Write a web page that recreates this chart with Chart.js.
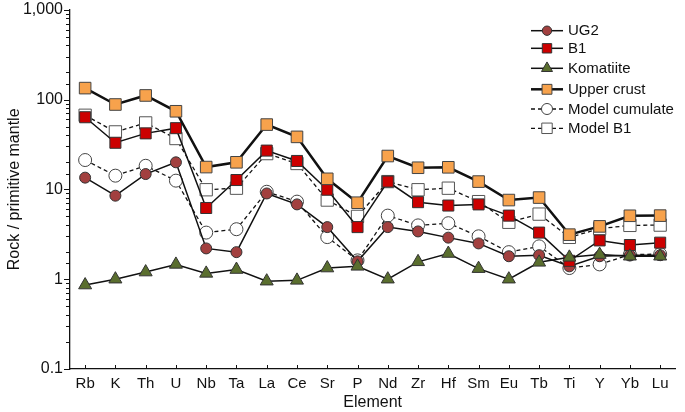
<!DOCTYPE html>
<html>
<head>
<meta charset="utf-8">
<script src="https://cdn.jsdelivr.net/npm/chart.js@4.4.1/dist/chart.umd.min.js"></script>
<style>
  html, body { margin: 0; padding: 0; background: #ffffff; }
  #wrap { width: 685px; height: 412px; position: relative; }
</style>
</head>
<body>
<div id="wrap"><canvas id="c" width="685" height="412"></canvas></div>
<script>
const elements = ['Rb','K','Th','U','Nb','Ta','La','Ce','Sr','P','Nd','Zr','Hf','Sm','Eu','Tb','Ti','Y','Yb','Lu'];
const ug2 = [13.5, 8.5, 14.8, 20, 2.2, 2.0, 9.0, 6.8, 3.8, 1.58, 3.8, 3.4, 2.9, 2.5, 1.8, 1.85, 1.39, 1.8, 1.85, 1.85];
const b1 = [63.5, 33, 42, 48, 6.2, 12.7, 27, 20.7, 9.9, 3.8, 12.2, 7.2, 6.6, 6.8, 5.1, 3.3, 1.6, 2.7, 2.4, 2.55];
const komatiite = [0.86, 1.0, 1.2, 1.46, 1.16, 1.28, 0.95, 0.97, 1.33, 1.39, 1.0, 1.56, 1.93, 1.31, 1.0, 1.54, 1.75, 1.88, 1.8, 1.8];
const upperCrust = [134, 88, 111, 74, 17.7, 20, 52.6, 38.4, 13.1, 7.1, 23.5, 17.4, 17.6, 12.2, 7.6, 8.1, 3.13, 3.87, 5.08, 5.1];
const modelCumulate = [21.2, 14.2, 18.3, 12.5, 3.3, 3.6, 9.4, 7.3, 2.94, 1.62, 5.1, 3.97, 4.2, 3.0, 2.0, 2.32, 1.33, 1.46, 1.88, 1.9];
const modelB1 = [66.8, 43.6, 54.9, 36.8, 9.9, 10.3, 25, 19.4, 7.6, 5.0, 12.2, 9.9, 10.3, 7.3, 4.3, 5.3, 2.92, 3.65, 3.97, 4.0];
const yMajorTicks = [0.1, 1, 10, 100, 1000];
const yTickLabels = ['0.1', '1', '10', '100', '1,000'];

const FONT = "'Liberation Sans', Arial, Helvetica, sans-serif";

function ds(label, data, o) {
  return Object.assign({
    label: label, data: data, borderColor: '#111', borderWidth: 1.5, tension: 0,
    pointBorderColor: '#333', pointBorderWidth: 1, fill: false
  }, o);
}

const datasets = [
  ds('UG2', ug2, {pointStyle: 'circle', pointRadius: 5.5, pointBackgroundColor: '#a2403f', order: 4}),
  ds('B1', b1, {pointStyle: 'rect', pointRadius: 7.8, pointBackgroundColor: '#cc0000', order: 3}),
  ds('Komatiite', komatiite, {pointStyle: 'triangle', pointRadius: 7.5, pointBackgroundColor: '#5a6e2e', order: 2}),
  ds('Upper crust', upperCrust, {pointStyle: 'rect', pointRadius: 8.2, pointBackgroundColor: '#f7a24c', borderWidth: 2.5, pointBorderColor: '#444', order: 1}),
  ds('Model cumulate', modelCumulate, {pointStyle: 'circle', pointRadius: 6.5, pointBackgroundColor: '#ffffff', borderDash: [4, 3], borderWidth: 1.3, pointBorderColor: '#444', order: 6}),
  ds('Model B1', modelB1, {pointStyle: 'rect', pointRadius: 8.7, pointBackgroundColor: '#ffffff', borderDash: [4, 3], borderWidth: 1.3, pointBorderColor: '#555', order: 5})
];

const axisTicksPlugin = {
  id: 'axisTicks',
  afterDraw(chart) {
    const ctx = chart.ctx;
    const xs = chart.scales.x, ys = chart.scales.y;
    ctx.save();
    ctx.strokeStyle = '#111';
    ctx.lineWidth = 1;
    ys.ticks.forEach(t => {
      const v = t.value;
      const major = yMajorTicks.some(m => Math.abs(m - v) / m < 1e-6);
      const py = Math.round(ys.getPixelForValue(v)) + 0.5;
      ctx.beginPath();
      ctx.moveTo(ys.right - (major ? 6 : 4), py);
      ctx.lineTo(ys.right, py);
      ctx.stroke();
    });
    for (let i = 0; i < elements.length; i++) {
      const px = Math.round(xs.getPixelForTick(i)) + 0.5;
      ctx.beginPath();
      ctx.moveTo(px, xs.top);
      ctx.lineTo(px, xs.top - 4);
      ctx.stroke();
    }
    ctx.restore();
  }
};

const legendPlugin = {
  id: 'customLegend',
  afterDraw(chart) {
    const ctx = chart.ctx;
    const rows = [30.7, 48.3, 68.3, 89.3, 109, 128.3];
    ctx.save();
    chart.data.datasets.forEach((d, i) => {
      const y = rows[i];
      ctx.strokeStyle = d.borderColor;
      ctx.lineWidth = d.borderWidth;
      ctx.setLineDash(d.borderDash || []);
      ctx.beginPath();
      ctx.moveTo(531, y);
      ctx.lineTo(563, y);
      ctx.stroke();
      ctx.setLineDash([]);
      ctx.fillStyle = d.pointBackgroundColor;
      ctx.strokeStyle = d.pointBorderColor;
      ctx.lineWidth = 1;
      const r = d.pointRadius * 0.85;
      if (Chart.helpers && Chart.helpers.drawPoint) {
        Chart.helpers.drawPoint(ctx, {pointStyle: d.pointStyle, radius: r, borderWidth: 1, rotation: 0}, 547, y);
      }
      ctx.fillStyle = '#111';
      ctx.font = '15px ' + FONT;
      ctx.textBaseline = 'middle';
      ctx.textAlign = 'left';
      ctx.fillText(d.label, 568, y + 0.5);
    });
    ctx.restore();
  }
};

new Chart(document.getElementById('c'), {
  type: 'line',
  data: { labels: elements, datasets: datasets },
  plugins: [axisTicksPlugin, legendPlugin],
  options: {
    responsive: false,
    animation: false,
    events: [],
    layout: { padding: { top: 8, right: 3, left: 0, bottom: 0 } },
    plugins: { legend: { display: false }, tooltip: { enabled: false } },
    scales: {
      x: {
        type: 'category',
        offset: true,
        grid: { display: false, drawTicks: false },
        border: { display: true, color: '#111', width: 1.3 },
        ticks: { color: '#111', font: { family: FONT, size: 15 }, padding: 6, autoSkip: false, maxRotation: 0 },
        title: { display: true, text: 'Element', color: '#111', font: { family: FONT, size: 16 }, padding: { top: 0, bottom: 0 } },
        afterFit(scale) { scale.height = 43; scale.paddingLeft = 0; scale.paddingRight = 0; }
      },
      y: {
        type: 'logarithmic',
        min: 0.1,
        max: 1000,
        grid: { display: false, drawTicks: false },
        border: { display: true, color: '#111', width: 1.3 },
        ticks: {
          color: '#111', font: { family: FONT, size: 16 }, padding: 7, autoSkip: false,
          callback(v) {
            const idx = yMajorTicks.findIndex(m => Math.abs(m - v) / m < 1e-6);
            return idx >= 0 ? yTickLabels[idx] : '';
          }
        },
        title: { display: true, text: 'Rock / primitive mantle', color: '#111', font: { family: FONT, size: 16 }, padding: { top: 5, bottom: 0 } },
        afterFit(scale) { scale.width = 70; scale.paddingTop = 0; scale.paddingBottom = 0; }
      }
    }
  }
});
</script>
</body>
</html>
